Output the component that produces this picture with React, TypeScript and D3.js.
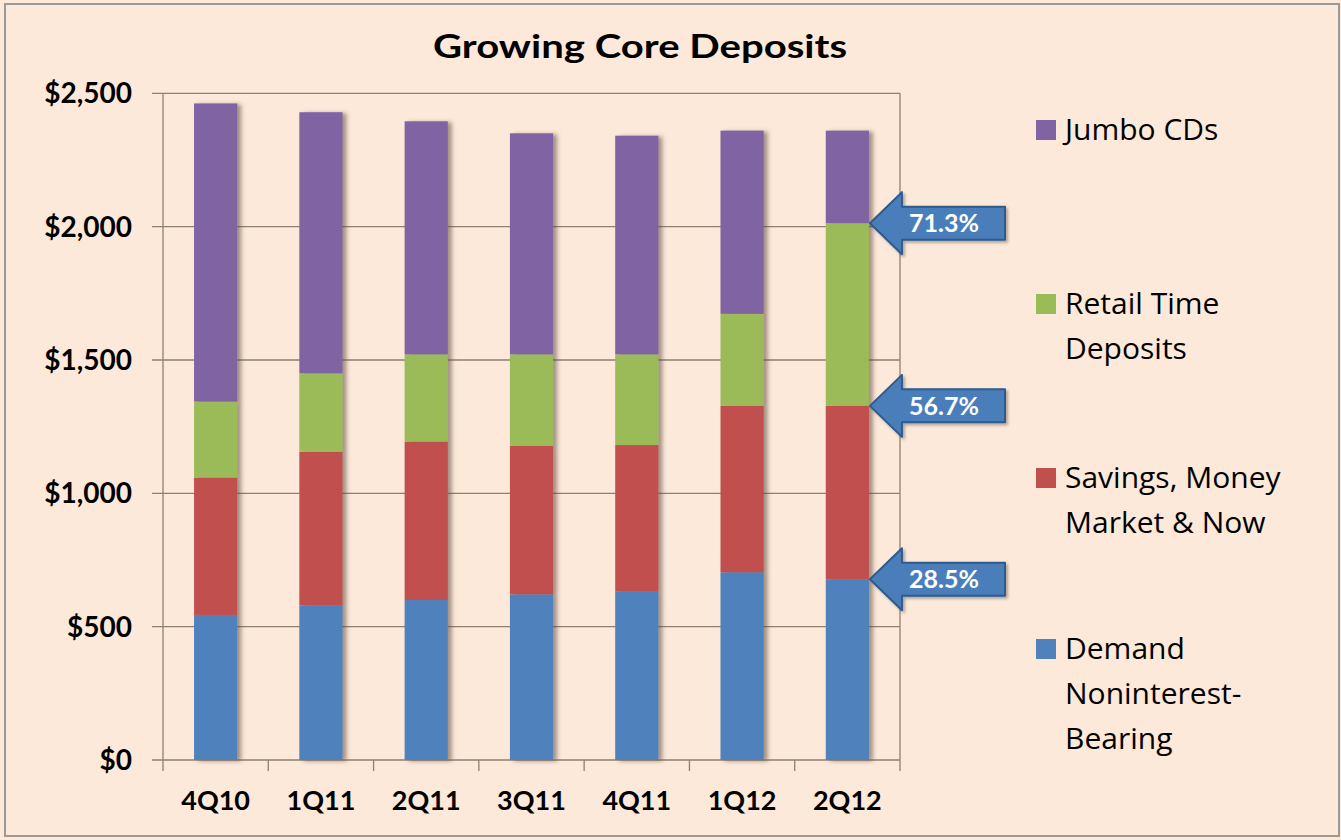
import * as React from "react";
import * as d3 from "d3";

const quarters = ["4Q10", "1Q11", "2Q11", "3Q11", "4Q11", "1Q12", "2Q12"];
const demand = [544, 580, 600, 621, 631, 704, 678];
const savings = [515, 576, 594, 557, 550, 624, 650];
const retailTime = [285, 294, 327, 343, 340, 345, 685];
const jumboCDs = [1118, 979, 874, 829, 820, 687, 347];

const seriesKeys = ["demand", "savings", "retail", "jumbo"];
const seriesColors = ["#4F81BD", "#C0504D", "#9BBB59", "#8064A2"];
const yTicks = [0, 500, 1000, 1500, 2000, 2500];

// legend entries top to bottom (lines of text)
const legendItems = [
  { key: "jumbo", lines: ["Jumbo CDs"] },
  { key: "retail", lines: ["Retail Time", "Deposits"] },
  { key: "savings", lines: ["Savings, Money", "Market & Now"] },
  { key: "demand", lines: ["Demand", "Noninterest-", "Bearing"] },
];

// callouts on the last bar: label + which stack layer top it points at
const callouts = [
  { text: "28.5%", layer: 0 },
  { text: "56.7%", layer: 1 },
  { text: "71.3%", layer: 2 },
];

const font = "Lato, 'Open Sans', sans-serif";
const legendFont = "'Open Sans', Lato, sans-serif";
const bg = "#FCE9DA";
const gridColor = "#8E8170";

export default function App() {
  const width = 1341;
  const height = 840;
  const plot = { left: 163, right: 900, top: 93.3, bottom: 760 };

  const x = d3.scaleBand().domain(quarters).range([plot.left, plot.right]).paddingInner(0.59).paddingOuter(0.295);
  const y = d3.scaleLinear().domain([0, 2500]).range([plot.bottom, plot.top]);
  const color = d3.scaleOrdinal<string, string>().domain(seriesKeys).range(seriesColors);

  const rows = quarters.map((q, i) => ({
    q,
    demand: demand[i],
    savings: savings[i],
    retail: retailTime[i],
    jumbo: jumboCDs[i],
  }));
  const stacked = d3.stack<any>().keys(seriesKeys)(rows);

  const lastQ = quarters[quarters.length - 1];
  const lastIdx = quarters.length - 1;
  const tipX = (x(lastQ) ?? 0) + x.bandwidth() + 1;
  const headX = tipX + 32;
  const boxRight = 1005;

  const bandStep = x.step();
  const legendTops = [120, 294, 468, 639];

  return (
    <svg
      width={width}
      height={height}
      viewBox={`0 0 ${width} ${height}`}
      style={{ position: "absolute", left: 0, top: 0, display: "block" }}
    >
      <defs>
        <filter id="shadow" x="-20%" y="-5%" width="160%" height="110%">
          <feDropShadow dx="4" dy="1" stdDeviation="2.2" floodColor="#5a4a3a" floodOpacity="0.55" />
        </filter>
        <filter id="ashadow" x="-10%" y="-20%" width="130%" height="150%">
          <feDropShadow dx="2" dy="2" stdDeviation="1.5" floodColor="#000" floodOpacity="0.3" />
        </filter>
      </defs>
      <rect x="0" y="0" width={width} height={height} fill={bg} />
      <rect x="5" y="4" width="1334" height="832" fill="none" stroke="#9a9a9a" strokeWidth="2" />

      <text
        x={640}
        y={58}
        textAnchor="middle"
        fontFamily={font}
        fontWeight="700"
        fontSize="32"
        fill="#000"
        textLength={414}
        lengthAdjust="spacingAndGlyphs"
      >
        Growing Core Deposits
      </text>

      {/* gridlines + y ticks */}
      {yTicks.map((t) => (
        <g key={t}>
          <line x1={plot.left - 11} x2={plot.right} y1={y(t)} y2={y(t)} stroke={gridColor} strokeWidth="1.3" />
          <text
            x={132}
            y={y(t) + 10}
            textAnchor="end"
            fontFamily={font}
            fontWeight="700"
            fontSize="28"
            fill="#000"
          >
            {d3.format("$,")(t)}
          </text>
        </g>
      ))}

      {/* plot frame */}
      <line x1={plot.left} x2={plot.left} y1={plot.top} y2={plot.bottom} stroke={gridColor} strokeWidth="1.3" />
      <line x1={plot.right} x2={plot.right} y1={plot.top} y2={plot.bottom} stroke={gridColor} strokeWidth="1.3" />

      {/* x category ticks */}
      {d3.range(quarters.length + 1).map((i) => (
        <line
          key={i}
          x1={plot.left + i * bandStep}
          x2={plot.left + i * bandStep}
          y1={plot.bottom}
          y2={plot.bottom + 11}
          stroke={gridColor}
          strokeWidth="1.3"
        />
      ))}
      {quarters.map((q) => (
        <text
          key={q}
          x={(x(q) ?? 0) + x.bandwidth() / 2}
          y={810}
          textAnchor="middle"
          fontFamily={font}
          fontWeight="700"
          fontSize="27"
          fill="#000"
        >
          {q}
        </text>
      ))}

      {/* bars */}
      <g filter="url(#shadow)">
        {stacked.map((layer) => (
          <g key={layer.key} fill={color(layer.key)}>
            {layer.map((d, i) => (
              <rect
                key={quarters[i]}
                x={x(quarters[i])}
                y={y(d[1])}
                width={x.bandwidth()}
                height={y(d[0]) - y(d[1])}
              />
            ))}
          </g>
        ))}
      </g>

      {/* callout arrows */}
      {callouts.map((c) => {
        const ty = y(stacked[c.layer][lastIdx][1]);
        const hh = 31;
        const bh = 16.5;
        const pts = [
          [tipX, ty],
          [headX, ty - hh],
          [headX, ty - bh],
          [boxRight, ty - bh],
          [boxRight, ty + bh],
          [headX, ty + bh],
          [headX, ty + hh],
        ];
        return (
          <g key={c.text}>
            <polygon
              points={pts.map((p) => p.join(",")).join(" ")}
              fill="#4A7EBB"
              stroke="#2F5A8C"
              strokeWidth="2"
              strokeLinejoin="round"
              filter="url(#ashadow)"
            />
            <text
              x={944}
              y={ty + 9}
              textAnchor="middle"
              fontFamily={font}
              fontWeight="700"
              fontSize="25"
              fill="#fff"
            >
              {c.text}
            </text>
          </g>
        );
      })}

      {/* legend */}
      {legendItems.map((item, i) => (
        <g key={item.key}>
          <rect x={1036} y={legendTops[i]} width={20} height={20} fill={color(item.key)} />
          {item.lines.map((line, j) => (
            <text
              key={line}
              x={1065}
              y={legendTops[i] + 20 + j * 45}
              fontFamily={legendFont}
              fontSize="30"
              fill="#000"
            >
              {line}
            </text>
          ))}
        </g>
      ))}
    </svg>
  );
}
